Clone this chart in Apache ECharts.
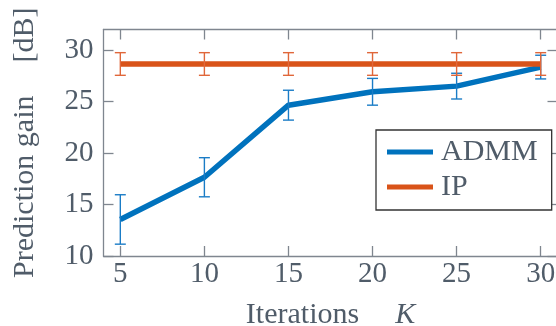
<!DOCTYPE html>
<html>
<head>
<meta charset="utf-8">
<script src="https://cdn.jsdelivr.net/npm/echarts@6/dist/echarts.min.js"></script>
<style>html,body{margin:0;padding:0;background:#fff;}#c{width:556px;height:326px;}</style>
</head>
<body>
<div id="c"></div>
<script>
const iterations = [5, 10, 15, 20, 25, 30];
const admmGain = [13.55, 17.65, 24.65, 25.95, 26.5, 28.35];
const admmErr = [2.4, 1.9, 1.45, 1.3, 1.25, 1.15];
const ipGain = [28.65, 28.65, 28.65, 28.65, 28.65, 28.65];
const ipErr = [1.1, 1.1, 1.1, 1.1, 1.1, 1.1];
const xTicks = [5, 10, 15, 20, 25, 30];
const yTicks = [10, 15, 20, 25, 30];

const FONT = "'Liberation Serif', serif";
const TXT = '#505c69';
const AX = '#7f868f';
const BLUE = '#0072bd';
const ORANGE = '#d95319';

function errRender(color) {
  return function (params, api) {
    const x = api.value(0), lo = api.value(1), hi = api.value(2);
    const p1 = api.coord([x, lo]), p2 = api.coord([x, hi]);
    const w = 5.5;
    const st = { stroke: color, lineWidth: 1.4 };
    return {
      type: 'group',
      children: [
        { type: 'line', shape: { x1: p1[0], y1: p1[1], x2: p2[0], y2: p2[1] }, style: st },
        { type: 'line', shape: { x1: p1[0] - w, y1: p1[1], x2: p1[0] + w, y2: p1[1] }, style: st },
        { type: 'line', shape: { x1: p2[0] - w, y1: p2[1], x2: p2[0] + w, y2: p2[1] }, style: st }
      ]
    };
  };
}

const chart = echarts.init(document.getElementById('c'), null, { renderer: 'canvas' });
const axisLineStyle = { lineStyle: { color: AX, width: 1.3 } };
const tickStyle = (vals) => ({ show: true, inside: true, length: 10, customValues: vals, lineStyle: { color: AX, width: 1.3 } });

chart.setOption({
  animation: false,
  backgroundColor: '#fff',
  grid: { left: 103.5, top: 29.5, width: 454, height: 226.5, containLabel: false, outerBoundsMode: 'none' },
  legend: {
    data: [{ name: 'ADMM', icon: 'rect' }, { name: 'IP', icon: 'rect' }],
    orient: 'vertical',
    left: 376, top: 130,
    itemWidth: 46, itemHeight: 5, itemGap: 5,
    padding: [7, 14, 8, 11],
    borderColor: '#333', borderWidth: 1.3, backgroundColor: '#fff',
    textStyle: { fontFamily: FONT, fontSize: 30, color: TXT, padding: [0, 0, 0, 3] }
  },
  xAxis: [
    {
      type: 'value', min: 4, max: 31, position: 'bottom',
      axisLine: axisLineStyle, splitLine: { show: false },
      axisTick: tickStyle(xTicks),
      axisLabel: { customValues: xTicks, fontFamily: FONT, fontSize: 29, color: TXT, margin: 4 },
      name: '{a|Iterations}{s|}{k|K}', nameLocation: 'middle', nameGap: 44,
      nameTextStyle: {
        rich: {
          a: { fontFamily: FONT, fontSize: 30, color: TXT },
          s: { width: 36 },
          k: { fontFamily: FONT, fontSize: 30, color: TXT, fontStyle: 'italic' }
        }
      }
    },
    {
      type: 'value', min: 4, max: 31, position: 'top',
      axisLine: axisLineStyle, splitLine: { show: false },
      axisTick: tickStyle(xTicks), axisLabel: { show: false }
    }
  ],
  yAxis: [
    {
      type: 'value', min: 10, max: 32, position: 'left',
      axisLine: axisLineStyle, splitLine: { show: false },
      axisTick: tickStyle(yTicks),
      axisLabel: { customValues: yTicks, fontFamily: FONT, fontSize: 29, color: TXT, margin: 10 },
      name: '{t|Prediction gain}{s|}{t|[dB]}', nameLocation: 'middle', nameGap: 63, nameRotate: 90,
      nameTextStyle: {
        rich: {
          t: { fontFamily: FONT, fontSize: 30, color: TXT },
          s: { width: 33 }
        }
      }
    },
    {
      type: 'value', min: 10, max: 32, position: 'right',
      axisLine: axisLineStyle, splitLine: { show: false },
      axisTick: tickStyle(yTicks), axisLabel: { show: false }
    }
  ],
  series: [
    {
      name: 'ADMM', type: 'line', z: 2, showSymbol: false, symbol: 'none',
      data: iterations.map((x, i) => [x, admmGain[i]]),
      lineStyle: { color: BLUE, width: 5.5 }, itemStyle: { color: BLUE }
    },
    {
      name: 'admmErr', type: 'custom', z: 3,
      renderItem: errRender('#1a7cc6'),
      data: iterations.map((x, i) => [x, admmGain[i] - admmErr[i], admmGain[i] + admmErr[i]])
    },
    {
      name: 'IP', type: 'line', z: 4, showSymbol: false, symbol: 'none',
      data: iterations.map((x, i) => [x, ipGain[i]]),
      lineStyle: { color: ORANGE, width: 5.5 }, itemStyle: { color: ORANGE }
    },
    {
      name: 'ipErr', type: 'custom', z: 5,
      renderItem: errRender('#e0673a'),
      data: iterations.map((x, i) => [x, ipGain[i] - ipErr[i], ipGain[i] + ipErr[i]])
    }
  ]
});
</script>
</body>
</html>
